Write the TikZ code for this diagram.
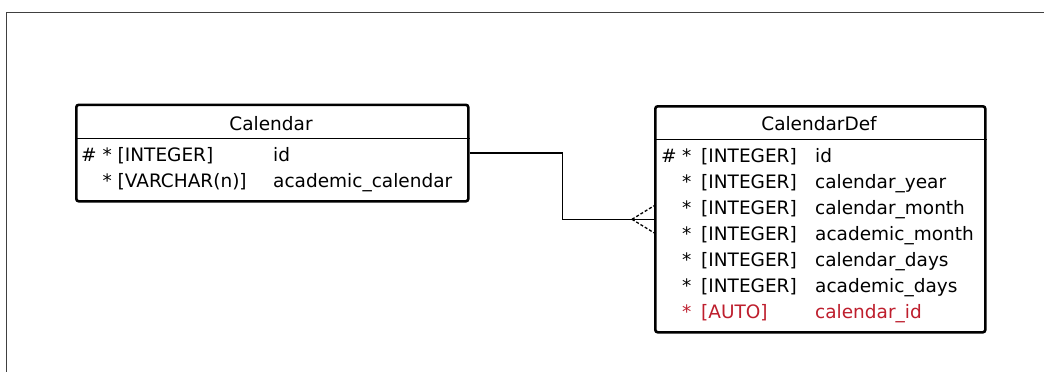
\documentclass[tikz,border=0pt]{standalone}
\usepackage{fontspec}
\setmainfont{DejaVu Sans}
\usetikzlibrary{calc}
\definecolor{fkred}{RGB}{190,30,45}
\tikzset{
  entity/.style={draw=black, line width=2.6pt, rounded corners=2.5pt, fill=white, inner sep=0pt, anchor=north west},
  txt/.style={inner sep=0pt, anchor=base west, font=\fontsize{18.5}{22}\selectfont},
  ttl/.style={inner sep=0pt, anchor=base, font=\fontsize{18.5}{22}\selectfont},
  sep/.style={line width=1pt, black},
  rel/.style={line width=1.3pt, black},
  toe/.style={line width=1.3pt, black, dash pattern=on 3pt off 2pt},
  frameline/.style={line width=1pt, black!75}
}
\begin{document}
\begin{tikzpicture}[x=1pt, y=-1pt]
\useasboundingbox (0,0) rectangle (1044,372);
% frame
\draw[frameline] (1044,12) -- (6.5,12) -- (6.5,372);
% entities
\node[entity, minimum width=392pt, minimum height=96.5pt] (cal) at (75,103.5) {};
\node[entity, minimum width=330pt, minimum height=226pt] (def) at (654,105) {};
% header separators
\draw[sep] (cal.west |- 0,138) -- (cal.east |- 0,138);
\draw[sep] (def.west |- 0,139) -- (def.east |- 0,139);
% Calendar texts
\node[ttl] (caltitle) at (271,130.5) {Calendar};
\node[txt] (calh1) at (81,161.5) {\#};
\node[txt] (cals1) at (102.5,161.5) {*};
\node[txt] (calt1) at (117.5,161.5) {[INTEGER]};
\node[txt] (caln1) at (273,161.5) {id};
\node[txt] (cals2) at (102.5,187.5) {*};
\node[txt] (calt2) at (117.5,187.5) {[VARCHAR(n)]};
\node[txt] (caln2) at (273,187.5) {academic\_calendar};
% CalendarDef texts
\node[ttl] (deftitle) at (819,130.5) {CalendarDef};
\node[txt] (defh1) at (661,162.5) {\#};
\node[txt] (defs1) at (682,162.5) {*};
\node[txt] (deft1) at (701,162.5) {[INTEGER]};
\node[txt] (defn1) at (815,162.5) {id};
\node[txt] (defs2) at (682,188.5) {*};
\node[txt] (deft2) at (701,188.5) {[INTEGER]};
\node[txt] (defn2) at (815,188.5) {calendar\_year};
\node[txt] (defs3) at (682,214.5) {*};
\node[txt] (deft3) at (701,214.5) {[INTEGER]};
\node[txt] (defn3) at (815,214.5) {calendar\_month};
\node[txt] (defs4) at (682,240.5) {*};
\node[txt] (deft4) at (701,240.5) {[INTEGER]};
\node[txt] (defn4) at (815,240.5) {academic\_month};
\node[txt] (defs5) at (682,266.5) {*};
\node[txt] (deft5) at (701,266.5) {[INTEGER]};
\node[txt] (defn5) at (815,266.5) {calendar\_days};
\node[txt] (defs6) at (682,292.5) {*};
\node[txt] (deft6) at (701,292.5) {[INTEGER]};
\node[txt] (defn6) at (815,292.5) {academic\_days};
\node[txt, text=fkred] (defs7) at (682,318.5) {*};
\node[txt, text=fkred] (deft7) at (701,318.5) {[AUTO]};
\node[txt, text=fkred] (defn7) at (815,318.5) {calendar\_id};
% relationship
\coordinate (bend) at ($(cal.east)+(93,0)$);
\draw[rel] (cal.east) -- (bend) |- (def.west);
\coordinate (foot) at ($(def.west)+(-22,0)$);
\draw[toe] (foot) -- ($(def.west)+(0,-13.5)$);
\draw[toe] (foot) -- ($(def.west)+(0,13.5)$);
\end{tikzpicture}
\end{document}
